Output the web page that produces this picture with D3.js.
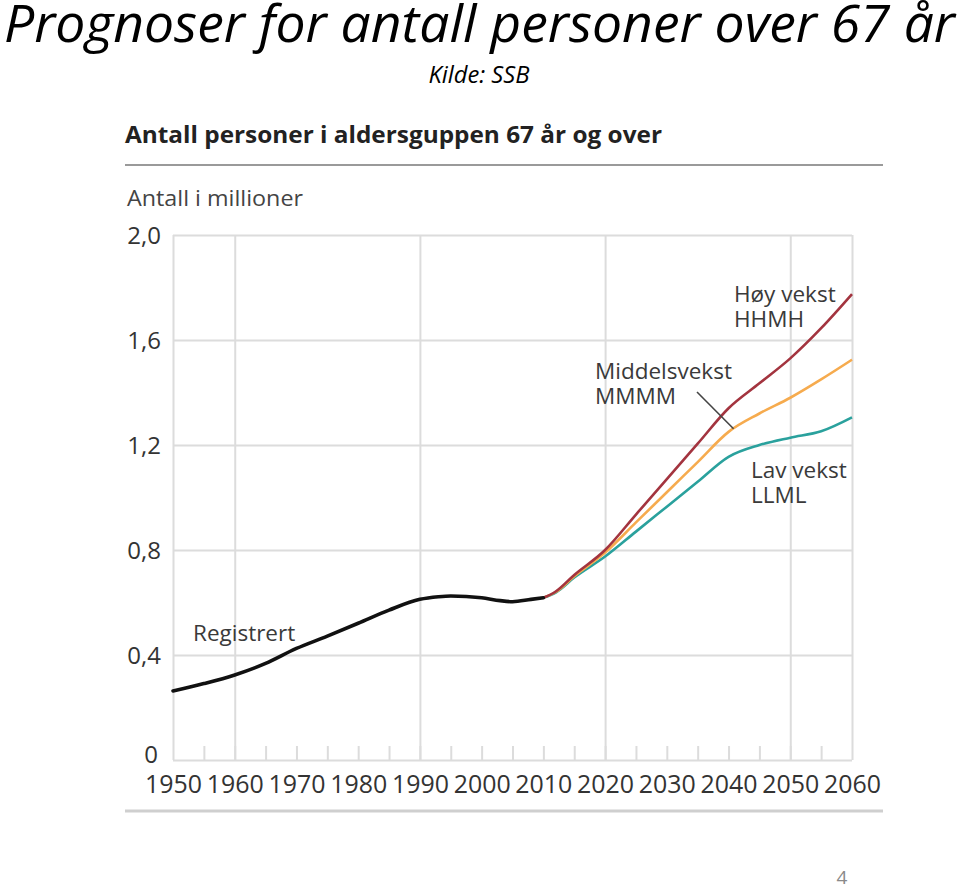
<!DOCTYPE html>
<html>
<head>
<meta charset="utf-8">
<script src="https://cdn.jsdelivr.net/npm/d3@7"></script>
<style>
  html, body { margin: 0; padding: 0; background: #fff; }
  svg { display: block; }
</style>
</head>
<body>
<script>
// ---- data ----
const regYears = [1950,1955,1960,1965,1970,1975,1980,1985,1990,1993,1995,2000,2003,2005,2008,2010];
const regValues = [0.263,0.291,0.324,0.368,0.425,0.472,0.521,0.571,0.612,0.622,0.625,0.618,0.607,0.603,0.612,0.618];
const projYears = [2010,2012,2015,2020,2025,2030,2035,2040,2045,2050,2055,2060];
const highValues = [0.618,0.642,0.705,0.800,0.935,1.070,1.205,1.340,1.435,1.530,1.645,1.775];
const midValues  = [0.618,0.640,0.700,0.790,0.905,1.020,1.135,1.250,1.320,1.380,1.450,1.525];
const lowValues  = [0.618,0.638,0.695,0.775,0.870,0.965,1.060,1.155,1.200,1.228,1.252,1.305];
const yTicks = [0,0.4,0.8,1.2,1.6,2.0];
const xLabelTicks = [1950,1960,1970,1980,1990,2000,2010,2020,2030,2040,2050,2060];
const xGridYears = [1950,1960,1990,2020,2050,2060];
const xMinorTicks = d3.range(1955,2060,5);

const W = 960, H = 889;
const svg = d3.select("body").append("svg").attr("width", W).attr("height", H);

// ---- slide title ----
svg.append("text").attr("x", 4).attr("y", 42)
  .attr("textLength", 951).attr("lengthAdjust", "spacingAndGlyphs")
  .style("font-family", "'Open Sans', sans-serif").style("font-style", "italic")
  .style("font-size", "51px").attr("fill", "#000")
  .text("Prognoser for antall personer over 67 år");
svg.append("text").attr("x", 479).attr("y", 83).attr("text-anchor", "middle")
  .attr("textLength", 101).attr("lengthAdjust", "spacingAndGlyphs")
  .style("font-family", "'Open Sans', sans-serif").style("font-style", "italic")
  .style("font-size", "24px").attr("fill", "#000")
  .text("Kilde: SSB");

// ---- chart header ----
const font = "'Open Sans', sans-serif";
const txt = "#333";
svg.append("text").attr("x", 125).attr("y", 143)
  .attr("textLength", 537).attr("lengthAdjust", "spacingAndGlyphs")
  .style("font-family", font).style("font-weight", "bold").style("font-size", "23px")
  .attr("fill", "#222").text("Antall personer i aldersguppen 67 år og over");
svg.append("line").attr("x1", 125).attr("x2", 883).attr("y1", 165).attr("y2", 165)
  .attr("stroke", "#9a9a9a").attr("stroke-width", 2);
svg.append("text").attr("x", 127).attr("y", 206)
  .attr("textLength", 176).attr("lengthAdjust", "spacingAndGlyphs")
  .style("font-family", font).style("font-size", "21px")
  .attr("fill", "#444").text("Antall i millioner");
svg.append("line").attr("x1", 125).attr("x2", 883).attr("y1", 811).attr("y2", 811)
  .attr("stroke", "#cfcfcf").attr("stroke-width", 3);

// ---- scales ----
const x = d3.scaleLinear().domain([1950, 2060]).range([173, 852]);
const y = d3.scaleLinear().domain([0, 2]).range([760, 235]);

const grid = "#dcdcdc";
// horizontal gridlines
const gy = svg.append("g").attr("transform", `translate(${x(1950)},0)`)
  .call(d3.axisLeft(y).tickValues(yTicks).tickSize(-(x(2060) - x(1950))).tickFormat(""));
gy.select(".domain").remove();
gy.selectAll("line").attr("stroke", grid).attr("stroke-width", 2);

// vertical gridlines
const gx = svg.append("g").attr("transform", `translate(0,${y(0)})`)
  .call(d3.axisBottom(x).tickValues(xGridYears).tickSize(-(y(0) - y(2))).tickFormat(""));
gx.select(".domain").remove();
gx.selectAll("line").attr("stroke", grid).attr("stroke-width", 2);

// minor ticks
const gm = svg.append("g").attr("transform", `translate(0,${y(0)})`)
  .call(d3.axisBottom(x).tickValues(xMinorTicks).tickSize(-14).tickFormat(""));
gm.select(".domain").remove();
gm.selectAll("line").attr("stroke", grid).attr("stroke-width", 2);

// y labels
const yl = svg.append("g").attr("transform", `translate(161,0)`)
  .call(d3.axisLeft(y).tickValues(yTicks).tickSize(0)
    .tickFormat(d => d === 0 ? "0" : d3.format(".1f")(d).replace(".", ",")));
yl.select(".domain").remove();
yl.selectAll("text").attr("x", 0).attr("dy", "0.36em")
  .style("font-family", font).style("font-size", "24px").attr("fill", txt);
yl.selectAll(".tick").filter(d => d === 0).select("text").attr("x", -3).attr("dy", "0.1em");

// x labels
const xl = svg.append("g").attr("transform", `translate(0,${y(0)})`)
  .call(d3.axisBottom(x).tickValues(xLabelTicks).tickSize(0).tickFormat(d3.format("d")));
xl.select(".domain").remove();
xl.selectAll("text").attr("y", 15).attr("dy", "0.71em")
  .style("font-family", font).style("font-size", "25px").attr("fill", txt)
  .attr("textLength", 57).attr("lengthAdjust", "spacingAndGlyphs")
  .attr("text-anchor", "middle");

// ---- lines ----
const line = d3.line().x(d => x(d[0])).y(d => y(d[1])).curve(d3.curveMonotoneX);
const series = [
  {vals: lowValues, color: "#2aa19d"},
  {vals: midValues, color: "#f6ab4e"},
  {vals: highValues, color: "#a3343f"}
];
series.forEach(s => {
  svg.append("path").datum(projYears.map((yr, i) => [yr, s.vals[i]]))
    .attr("d", line).attr("fill", "none").attr("stroke", s.color)
    .attr("stroke-width", 2.6).attr("stroke-linejoin", "round");
});
svg.append("path").datum(regYears.map((yr, i) => [yr, regValues[i]]))
  .attr("d", line).attr("fill", "none").attr("stroke", "#111")
  .attr("stroke-width", 3.6).attr("stroke-linecap", "round");

// ---- annotations ----
function label(lines, x0, y0) {
  lines.forEach((t, i) => {
    svg.append("text").attr("x", x0).attr("y", y0 + i * 25)
      .style("font-family", font).style("font-size", "22.5px").attr("fill", "#3a3a3a").text(t);
  });
}
label(["Høy vekst", "HHMH"], 734, 302);
label(["Middelsvekst", "MMMM"], 595, 379);
label(["Lav vekst", "LLML"], 751, 478);
label(["Registrert"], 193, 641);
svg.append("line").attr("x1", 697).attr("y1", 392).attr("x2", x(2040) + 5).attr("y2", y(1.262))
  .attr("stroke", "#444").attr("stroke-width", 1.6);

// page number
svg.append("text").attr("x", 842).attr("y", 884).attr("text-anchor", "middle")
  .style("font-family", "'Open Sans', sans-serif").style("font-size", "19px")
  .attr("fill", "#8a8a8a").text("4");
</script>
</body>
</html>
